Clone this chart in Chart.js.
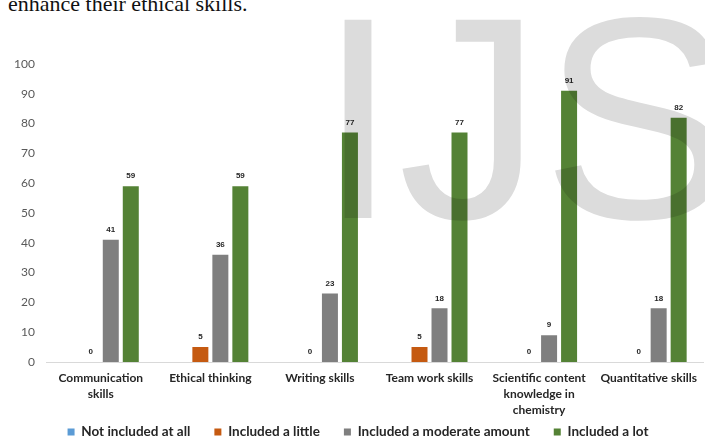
<!DOCTYPE html>
<html>
<head>
<meta charset="utf-8">
<script src="https://cdn.jsdelivr.net/npm/chart.js@4/dist/chart.umd.min.js"></script>
<style>
  html, body { margin: 0; padding: 0; background: #fff; }
  #wrap { position: relative; width: 705px; height: 438px; overflow: hidden; }
  #lead {
    position: absolute; left: 8px; top: -7px;
    font-family: "Liberation Serif", "DejaVu Serif", serif;
    font-size: 22px; line-height: 22px; color: #111; white-space: nowrap;
  }
  #c { position: absolute; left: 0; top: 0; }
</style>
</head>
<body>
<div id="wrap">
  <div id="lead">enhance their ethical skills.</div>
  <canvas id="c" width="705" height="438"></canvas>
</div>
<script>
// Skill categories (multi-line labels)
const categories = [
  ["Communication", "skills"],
  "Ethical thinking",
  "Writing skills",
  "Team work skills",
  ["Scientific content", "knowledge in", "chemistry"],
  "Quantitative skills"
];

// Percent of responses per category
const notIncluded      = [0, 0, 0, 0, 0, 0];
const includedLittle   = [0, 5, 0, 5, 0, 0];
const includedModerate = [41, 36, 23, 18, 9, 18];
const includedLot      = [59, 59, 77, 77, 91, 82];

const seriesNames = ["Not included at all", "Included a little", "Included a moderate amount", "Included a lot"];
const yTicks = [0, 10, 20, 30, 40, 50, 60, 70, 80, 90, 100];

// Series whose values are printed above the bars
const labelledSeries = [1, 2, 3];

const valueLabels = {
  id: "valueLabels",
  afterDatasetsDraw(chart) {
    const ctx = chart.ctx;
    ctx.save();
    ctx.font = "bold 8px 'Liberation Sans', Arial, sans-serif";
    ctx.fillStyle = "#262626";
    ctx.textAlign = "center";
    ctx.textBaseline = "middle";
    labelledSeries.forEach(i => {
      const ds = chart.data.datasets[i];
      chart.getDatasetMeta(i).data.forEach((bar, j) => {
        ctx.fillText(String(ds.data[j]), bar.x, bar.y - 10);
      });
    });
    ctx.restore();
  }
};

// Place the legend row near the bottom edge
const legendPlacement = {
  id: "legendPlacement",
  afterLayout(chart) {
    const lg = chart.legend;
    if (!lg) return;
    const pad = lg.options.labels.padding;
    const fs = lg.options.labels.font.size;
    lg.top = 432 - pad - fs / 2;
    lg.bottom = chart.height;
    lg.height = lg.bottom - lg.top;
    lg.left += 6;
    lg.right += 6;
  }
};

// Large faint "IJS" mark laid over the plot
const watermark = {
  id: "watermark",
  afterDraw(chart) {
    const ctx = chart.ctx;
    ctx.save();
    ctx.globalCompositeOperation = "multiply";
    ctx.fillStyle = "#dcdcdc";
    ctx.font = "288px 'Liberation Sans', Arial, sans-serif";
    ctx.textBaseline = "alphabetic";
    ctx.textAlign = "left";
    ctx.fillText("IJS", 318, 218);
    ctx.restore();
  }
};

const colors = ["#5B9BD5", "#C55A11", "#7F7F7F", "#548235"];
const values = [notIncluded, includedLittle, includedModerate, includedLot];

new Chart(document.getElementById("c"), {
  type: "bar",
  data: {
    labels: categories,
    datasets: values.map((v, i) => ({
      label: seriesNames[i],
      data: v,
      backgroundColor: colors[i],
      borderWidth: 0,
      categoryPercentage: 0.73,
      barPercentage: 0.8
    }))
  },
  options: {
    responsive: false,
    animation: false,
    devicePixelRatio: 1,
    layout: { padding: { top: 64, left: 0, right: 1, bottom: 0 } },
    plugins: {
      tooltip: { enabled: false },
      legend: {
        position: "bottom",
        align: "center",
        maxHeight: 20,
        labels: {
          boxWidth: 7,
          boxHeight: 7,
          padding: 24,
          color: "#262626",
          font: { family: "Lato, 'Liberation Sans', sans-serif", size: 13.5, weight: "bold" }
        }
      }
    },
    scales: {
      x: {
        grid: { display: false, drawTicks: false },
        border: { display: true, color: "#d9d9d9", width: 1 },
        ticks: {
          autoSkip: false,
          maxRotation: 0,
          padding: 8,
          color: "#262626",
          font: { family: "Lato, 'Liberation Sans', sans-serif", size: 12, weight: "bold", lineHeight: 1.35 }
        },
        afterFit(s) { s.height = 56; }
      },
      y: {
        min: 0,
        max: 100,
        afterBuildTicks(s) { s.ticks = yTicks.map(v => ({ value: v })); },
        grid: { display: false, drawTicks: false },
        border: { display: false },
        ticks: {
          padding: 11,
          color: "#595959",
          font: { family: "Lato, 'Liberation Sans', sans-serif", size: 12 }
        },
        afterFit(s) { s.width = 46; }
      }
    }
  },
  plugins: [valueLabels, legendPlacement, watermark]
});
</script>
</body>
</html>
